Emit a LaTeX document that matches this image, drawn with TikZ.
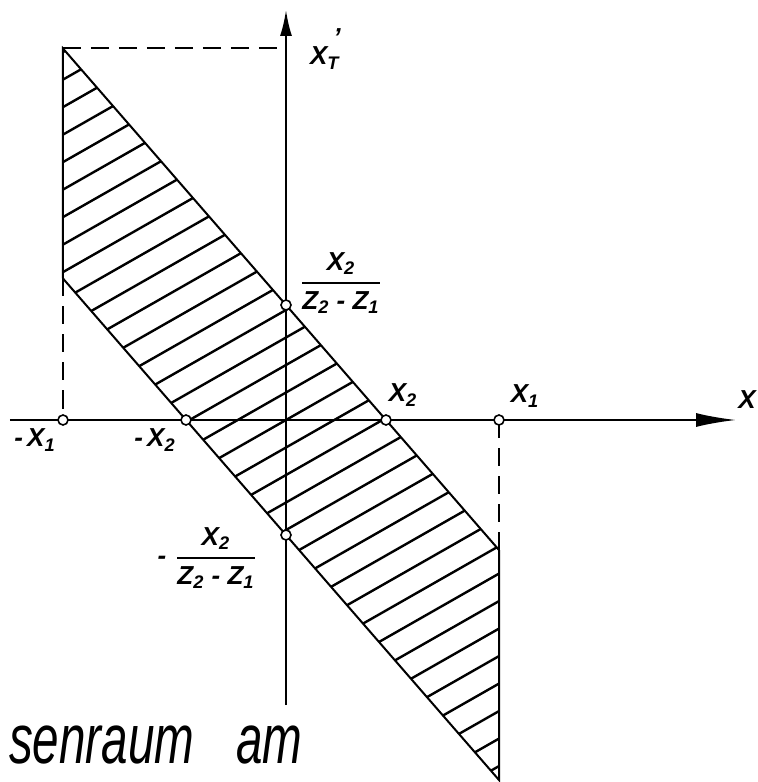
\documentclass[tikz,border=0pt]{standalone}
\usepackage{amsmath}
\usepackage{graphicx}
\usepackage{fontspec}
\setmainfont{Liberation Sans}
\usetikzlibrary{arrows.meta}

\begin{document}
\begin{tikzpicture}[
  x=0.5pt, y=0.5pt,
  every node/.style={font=\fontsize{13}{15}\selectfont\bfseries\itshape},
  outline/.style={line width=1pt},
  guide/.style={line width=1pt, dash pattern=on 9pt off 5pt},
  hatch/.style={line width=1.2pt},
  mark pt/.style={circle, draw, fill=white, line width=0.8pt, inner sep=0pt, minimum size=5pt},
]
\useasboundingbox (-286,-362) rectangle (472,420);

% Hatching of the band
\begin{scope}
  \clip (-223,371.5) -- (213,-130) -- (213,-360) -- (-223,141.5) -- cycle;
  \foreach \k in {-18,...,18}
    \draw[hatch] (-240,{-0.57*240+27.5*\k}) -- (230,{0.57*230+27.5*\k});
\end{scope}

% Axes
\draw[outline, -{Latex[length=20pt, width=7pt]}] (-276,0) -- (450,0);
\draw[outline, -{Latex[length=13pt, width=6pt]}] (0,-285) -- (0,410);

% Band edges
\draw[outline] (-223,141.5) -- (-223,371.5) -- (213,-130);
\draw[outline] (-223,141.5) -- (213,-360) -- (213,-130);

% Guides
\draw[guide] (-223,371.5) -- (0,371.5);
\draw[guide] (-223,141.5) -- (-223,0);
\draw[guide] (213,0) -- (213,-130);

% Marked points
\foreach \x/\y/\nm in {-223/0/mxa, -100/0/mxb, 100/0/pxb, 213/0/pxa, 0/115/pyb, 0/-115/myb}
  \node[mark pt] (\nm) at (\x,\y) {};

% Labels
\node[anchor=base west] (lxt) at (17,355)
  {X\rlap{\hspace{3pt}\raisebox{9pt}{'}}\textsubscript{T}};
\node (lpyb) at (55,137)
  {$\genfrac{}{}{1.2pt}{0}{\mbox{X\textsubscript{2}}}{\mbox{Z\textsubscript{2} - Z\textsubscript{1}}}$};
\node[anchor=east] (lmyb) at (-22,-138)
  {-\,\,$\genfrac{}{}{1.2pt}{0}{\mbox{X\textsubscript{2}}}{\mbox{Z\textsubscript{2} - Z\textsubscript{1}}}$};
\node (lmxa) at (-251,-20) {-\,X\textsubscript{1}};
\node (lmxb) at (-131,-20) {-\,X\textsubscript{2}};
\node (lpxb) at (117,25) {X\textsubscript{2}};
\node (lpxa) at (239,24) {X\textsubscript{1}};
\node[anchor=east, inner sep=1pt] (lx) at (472,20) {X};

% Caption fragment
\node[anchor=base west, font=\fontsize{35}{40}\selectfont\itshape] (cap) at (-284,-343)
  {\scalebox{0.68}[1]{senraum\hspace{31pt}am}};

\end{tikzpicture}
\end{document}
